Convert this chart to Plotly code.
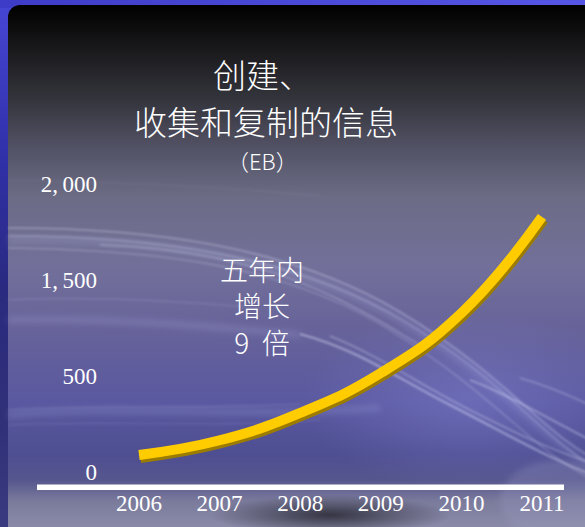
import base64
import plotly.graph_objects as go

# ---- data -------------------------------------------------------------
years = [2006, 2007, 2008, 2009, 2010, 2011]
info_eb = [118, 220, 410, 686, 1102, 1768]          # information created/captured/replicated, EB
y_tick_vals = [0, 2000 / 3, 4000 / 3, 2000]
y_tick_text = ["0", "500", "1,\u2009500", "2,\u2009000"]
x_tick_text = [str(y) for y in years]

title_lines = ["创建、", "收集和复制的信息"]
unit_text = "（EB）"
note_text = "五年内<br>增长<br>9  倍"

# ---- page geometry ----------------------------------------------------
W, H = 585, 527
ML, MR, MT, MB = 100, 0, 0, 40
PW, PH = W - ML - MR, H - MT - MB

X_PX_PER_YEAR = 80.6
X0_PX = 139                     # pixel column of the first year
Y_PX_PER_UNIT = 0.14425
Y0_PX = 472                     # pixel row of zero

x_range = [years[0] - (X0_PX - ML) / X_PX_PER_YEAR,
           years[0] + (W - MR - X0_PX) / X_PX_PER_YEAR]
y_range = [-(MT + PH - Y0_PX) / Y_PX_PER_UNIT, (Y0_PX - MT) / Y_PX_PER_UNIT]


def px(xp):
    return (xp - ML) / PW


def py(yp):
    return (MT + PH - yp) / PH


SERIF = "Liberation Serif, Noto Sans CJK SC"
CJK = "Noto Sans CJK SC, Liberation Serif"

# ---- backdrop: blue frame, rounded dark-to-violet panel, light streaks ----
svg = f"""<svg xmlns='http://www.w3.org/2000/svg' width='{W}' height='{H}' viewBox='0 0 {W} {H}' preserveAspectRatio='none'>
<defs>
 <linearGradient id='frameV' x1='0' y1='0' x2='0' y2='1'>
  <stop offset='0' stop-color='#4646d6'/><stop offset='0.3' stop-color='#3030a8'/>
  <stop offset='0.55' stop-color='#2a2a80'/><stop offset='0.8' stop-color='#303078'/>
  <stop offset='1' stop-color='#3a3a80'/>
 </linearGradient>
 <linearGradient id='frameH' x1='0' y1='0' x2='1' y2='0'>
  <stop offset='0' stop-color='#3c3cc8'/><stop offset='1' stop-color='#5656e6'/>
 </linearGradient>
 <linearGradient id='panel' gradientUnits='userSpaceOnUse' x1='0' y1='5' x2='0' y2='527'>
  <stop offset='0' stop-color='#000000'/>
  <stop offset='0.07' stop-color='#151517'/>
  <stop offset='0.18' stop-color='#34343c'/>
  <stop offset='0.28' stop-color='#545468'/>
  <stop offset='0.37' stop-color='#6c6c86'/>
  <stop offset='0.5' stop-color='#72709a'/>
  <stop offset='0.63' stop-color='#66629a'/>
  <stop offset='0.76' stop-color='#5a58a0'/>
  <stop offset='0.86' stop-color='#4e4e92'/>
  <stop offset='0.91' stop-color='#56568e'/>
  <stop offset='0.95' stop-color='#7a7a9c'/>
  <stop offset='1' stop-color='#8a8aa8'/>
 </linearGradient>
 <radialGradient id='smudge' cx='0.5' cy='0.5' r='0.5'>
  <stop offset='0' stop-color='#22222c' stop-opacity='0.8'/>
  <stop offset='1' stop-color='#22222c' stop-opacity='0'/>
 </radialGradient>
 <radialGradient id='glow' cx='0.5' cy='0.5' r='0.5'>
  <stop offset='0' stop-color='#8080d0' stop-opacity='0.45'/>
  <stop offset='1' stop-color='#8080d0' stop-opacity='0'/>
 </radialGradient>
 <filter id='soft' x='-10%' y='-10%' width='120%' height='120%'><feGaussianBlur stdDeviation='1.3'/></filter>
 <filter id='softer' x='-10%' y='-10%' width='120%' height='120%'><feGaussianBlur stdDeviation='3'/></filter>
</defs>
<rect width='{W}' height='{H}' fill='url(#frameV)'/>
<rect width='{W}' height='8' fill='url(#frameH)'/>
<rect x='8' y='5' width='640' height='600' rx='12' ry='12' fill='url(#panel)'/>
<ellipse cx='470' cy='400' rx='170' ry='90' fill='url(#glow)'/>
<g filter='url(#softer)' fill='none' stroke='#c8ccff' stroke-opacity='0.18' stroke-width='6'>
 <path d='M8,240 C150,238 290,255 400,320 S540,440 600,470'/>
 <path d='M8,415 C120,405 240,418 380,408'/>
 <path d='M8,320 C110,318 200,325 300,335'/>
</g>
<g filter='url(#soft)' fill='none' stroke='#e4e8ff'>
 <path d='M8,228 C150,228 290,246 400,312 S540,432 600,462' stroke-opacity='0.35' stroke-width='1.6'/>
 <path d='M8,236 C150,236 290,254 402,320 S542,440 600,470' stroke-opacity='0.28' stroke-width='1.4'/>
 <path d='M8,248 C150,250 280,262 390,330 S530,450 600,484' stroke-opacity='0.25' stroke-width='1.4'/>
 <path d='M100,245 C200,248 280,270 340,300 S400,335 430,350' stroke-opacity='0.3' stroke-width='1.5'/>
 <path d='M300,334 C360,350 400,380 450,405 S540,455 600,478' stroke-opacity='0.45' stroke-width='2'/>
 <path d='M330,336 C380,356 420,385 470,410 S550,450 600,466' stroke-opacity='0.35' stroke-width='1.6'/>
 <path d='M470,380 C510,395 550,420 600,445' stroke-opacity='0.4' stroke-width='1.8'/>
 <path d='M520,378 C545,385 570,395 600,410' stroke-opacity='0.3' stroke-width='1.5'/>
 <path d='M8,300 C90,296 170,300 260,308' stroke-opacity='0.15' stroke-width='1.2'/>
 <path d='M8,410 C100,404 200,410 300,404' stroke-opacity='0.15' stroke-width='1.2'/>
 <path d='M8,425 C100,420 200,428 320,420' stroke-opacity='0.12' stroke-width='1.2'/>
 <path d='M8,180 C120,182 220,186 320,196' stroke-opacity='0.08' stroke-width='1.2'/>
</g>
<ellipse cx='330' cy='515' rx='120' ry='20' fill='url(#smudge)'/>
<ellipse cx='560' cy='500' rx='60' ry='40' fill='#a0a0c8' fill-opacity='0.25' filter='url(#softer)'/>
</svg>"""
bg_uri = "data:image/svg+xml;base64," + base64.b64encode(svg.encode("utf-8")).decode("ascii")

fig = go.Figure()

# invisible copy on the base axes so their tick labels are drawn
fig.add_trace(go.Scatter(
    x=years, y=info_eb, mode="lines", line=dict(width=0, color="rgba(0,0,0,0)"),
    hoverinfo="skip", showlegend=False))
# drop shadow of the growth curve, on overlay axes nudged down/right
shadow_dx, shadow_dy = 1.5, 3.0
fig.add_trace(go.Scatter(
    x=years, y=info_eb, xaxis="x2", yaxis="y2", mode="lines",
    line=dict(color="#9c7c00", width=10, shape="spline", smoothing=1.3),
    hoverinfo="skip", showlegend=False))
# the growth curve itself, on an unshifted overlay drawn above the shadow
fig.add_trace(go.Scatter(
    x=years, y=info_eb, xaxis="x3", yaxis="y3", mode="lines",
    line=dict(color="#ffcc00", width=10, shape="spline", smoothing=1.3),
    showlegend=False))

annotations = []
for text, (cx, cy) in zip(title_lines, [(262, 74), (266, 121)]):
    annotations.append(dict(text=text, x=px(cx), y=py(cy), xref="paper", yref="paper",
                            showarrow=False, xanchor="center", yanchor="middle",
                            font=dict(family=CJK, size=33, color="white", weight=300)))
annotations.append(dict(text=unit_text, x=px(262), y=py(160), xref="paper", yref="paper",
                        showarrow=False, xanchor="center", yanchor="middle",
                        font=dict(family=CJK, size=22, color="white", weight=300)))
annotations.append(dict(text=note_text, x=px(262), y=py(305), xref="paper", yref="paper",
                        showarrow=False, xanchor="center", yanchor="middle", align="center",
                        font=dict(family=CJK, size=28, color="white", weight=300)))

hidden = dict(visible=False, fixedrange=True)
fig.update_layout(
    width=W, height=H,
    margin=dict(l=ML, r=MR, t=MT, b=MB, pad=0),
    paper_bgcolor="#34349a",
    plot_bgcolor="rgba(0,0,0,0)",
    images=[dict(source=bg_uri, xref="paper", yref="paper",
                 x=px(0), y=py(0), sizex=W / PW, sizey=H / PH,
                 xanchor="left", yanchor="top", sizing="stretch", layer="below")],
    shapes=[dict(type="rect", xref="paper", yref="paper",
                 x0=px(37), x1=px(564), y0=py(490), y1=py(484.5),
                 fillcolor="white", line=dict(width=0), layer="above")],
    annotations=annotations,
    xaxis=dict(range=x_range, tickvals=years, ticktext=x_tick_text,
               showgrid=False, zeroline=False, showline=False, ticks="",
               tickfont=dict(family=SERIF, size=23, color="white"),
               ticklabelstandoff=0, fixedrange=True),
    yaxis=dict(range=y_range, tickvals=y_tick_vals, ticktext=y_tick_text,
               showgrid=False, zeroline=False, showline=False, ticks="",
               tickfont=dict(family=SERIF, size=23, color="white"),
               ticklabelstandoff=2, fixedrange=True),
    xaxis2=dict(overlaying="x",
                range=[x_range[0] - shadow_dx / X_PX_PER_YEAR, x_range[1] - shadow_dx / X_PX_PER_YEAR],
                **hidden),
    yaxis2=dict(overlaying="y",
                range=[y_range[0] + shadow_dy / Y_PX_PER_UNIT, y_range[1] + shadow_dy / Y_PX_PER_UNIT],
                **hidden),
    xaxis3=dict(overlaying="x", range=x_range, **hidden),
    yaxis3=dict(overlaying="y", range=y_range, **hidden),
)

fig.write_html("out.html")
